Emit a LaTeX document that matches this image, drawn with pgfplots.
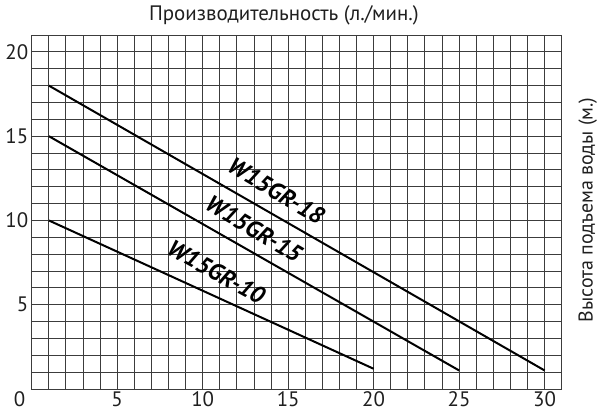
\documentclass[border=0pt]{standalone}
\usepackage{pgfplots}
\pgfplotsset{compat=1.18}
\usepackage{fontspec}
\setmainfont{PT Sans}
\definecolor{gridc}{HTML}{3C3C3C}
\begin{document}
\begin{tikzpicture}
\begin{axis}[
  name=ax,
  scale only axis,
  width=530bp, height=354bp,
  xmin=0, xmax=31,
  ymin=0, ymax=21,
  xtick={5,10,...,30},
  ytick={5,10,15,20},
  minor xtick={0,1,...,31},
  minor ytick={0,1,...,21},
  extra x ticks={0},
  extra x tick style={xticklabel style={xshift=-12bp}},
  major tick length=0pt, minor tick length=0pt,
  grid=both,
  major grid style={gridc, line width=0.9bp},
  minor grid style={gridc, line width=0.9bp},
  axis line style={gridc, line width=0.9bp},
  ticklabel style={font=\fontsize{21}{23}\selectfont, text=black!88},
  xticklabel style={yshift=1bp},
  /pgf/number format/assume math mode=true,
  clip=false,
]
\addplot[black, line width=2bp] coordinates {(1,18) (30,1.1)};
\addplot[black, line width=2bp] coordinates {(1,15) (25,1.1)};
\addplot[black, line width=2bp] coordinates {(1,10) (20,1.2)};

\node[rotate=-30.5, font=\fontsize{24}{26}\selectfont\bfseries\itshape] at (axis cs:14.3,11.75) {W15GR-18};
\node[rotate=-30.5, font=\fontsize{24}{26}\selectfont\bfseries\itshape] at (axis cs:13.0,9.5) {W15GR-15};
\node[rotate=-29, font=\fontsize{24}{26}\selectfont\bfseries\itshape] at (axis cs:10.8,6.95) {W15GR-10};

\node[font=\fontsize{21}{23}\selectfont, text=black!88, anchor=center] at ([yshift=20bp]rel axis cs:0.476,1) {Производительность (л./мин.)};
\node[font=\fontsize{20}{22}\selectfont, text=black!88, rotate=90, anchor=center] at ([xshift=26bp]rel axis cs:1,0.506) {Высота подъема воды (м.)};
\end{axis}
\pgfresetboundingbox
\path[use as bounding box] ([shift={(-31.7bp,-25bp)}]ax.south west) rectangle ([shift={(38.3bp,35bp)}]ax.north east);
\end{tikzpicture}
\end{document}
